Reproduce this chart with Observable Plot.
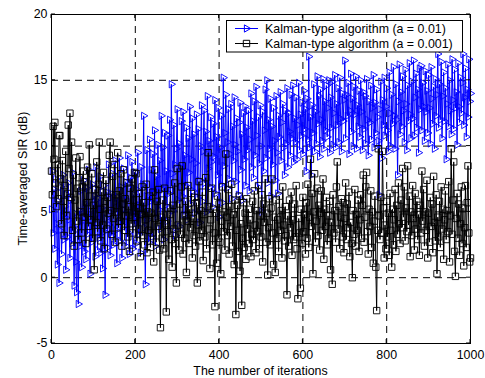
<!DOCTYPE html>
<html><head><meta charset="utf-8">
<script src="https://cdn.jsdelivr.net/npm/d3@7"></script>
<script src="https://cdn.jsdelivr.net/npm/@observablehq/plot@0.6"></script>
<style>body{margin:0;background:#fff} svg{display:block}</style>
</head><body><div id="chart"></div>
<script>
const iterations = d3.range(0, 1001, 2);
const sirA01 = [
  5.2, 8.1, 3.4, 6.7, 2.2, 7.5, 4.1, 1.0, 5.8, -0.4,
  3.6, 6.9, 1.8, 4.7, 7.8, 2.9, 5.4, 0.6, 6.3, 3.1,
  7.2, 4.4, 1.5, 5.9, 2.6, 8.0, 3.8, -0.6, 4.9, 1.2,
  -1.1, 3.7, -2.0, 5.1, 2.4, 6.6, 0.8, 4.3, 7.4, 2.0,
  5.6, 1.4, 6.8, 3.3, 8.2, 4.6, 0.3, 5.0, 2.7, 7.1,
  3.9, 6.2, 1.6, 8.4, 4.8, 2.1, 6.0, 3.0, 7.7, 1.9,
  5.3, 0.7, 7.0, 3.5, -1.3, 4.5, 6.5, 2.3, 8.6, 4.0,
  1.7, 6.4, 3.2, 7.9, 2.5, 5.7, 8.9, 3.6, 1.1, 6.1,
  4.2, 9.1, 2.8, 6.9, 1.5, 5.2, 8.3, 3.9, 7.3, 2.4,
  5.9, 9.3, 3.4, 1.8, 7.6, 4.7, 8.8, 2.2, 6.3, 4.1,
  8.0, 2.6, 6.7, 9.5, 3.3, 5.5, 1.9, 8.4, 4.9, 7.1,
  12.3, 3.8, -0.5, 6.2, 9.7, 4.4, 2.7, 10.5, 5.8, 8.2,
  3.1, 9.4, 6.5, 11.2, 2.4, 7.7, 4.6, 10.1, 5.2, 8.9,
  3.7, 12.3, 6.8, 9.9, 2.9, 11.0, 5.5, 8.1, 4.3, 10.8,
  6.4, 12.0, 3.6, 14.7, 7.9, 5.1, 11.6, 8.6, 3.2, 9.8,
  12.8, 5.9, 10.2, 3.9, 8.4, 11.9, 6.2, 12.6, 4.8, 9.3,
  7.0, 11.4, 4.4, 10.6, 8.0, 13.0, 5.6, 9.0, 12.1, 6.6,
  10.9, 4.9, 8.7, 12.4, 6.1, 11.3, 7.4, 4.2, 10.0, 13.1,
  5.8, 9.6, 12.7, 7.2, 11.1, 5.0, 13.8, 8.3, 10.4, 6.9,
  12.2, 8.8, 5.4, 11.7, 9.2, 13.5, 6.4, 10.7, 7.8, 12.9,
  4.6, 9.9, 7.1, 12.3, 5.7, 15.2, 8.5, 11.0, 13.9, 6.8,
  10.3, 12.8, 7.5, 9.4, 13.2, 6.0, 11.5, 8.9, 13.7, 10.1,
  7.3, 12.1, 9.6, 6.3, 11.8, 13.3, 8.2, 10.9, 5.9, 12.5,
  9.0, 13.0, 7.0, 11.4, 9.7, 12.7, 6.6, 10.5, 14.0, 8.4,
  11.9, 7.6, 13.4, 9.3, 14.5, 10.8, 6.9, 12.2, 8.7, 13.1,
  10.0, 5.0, 12.6, 8.1, 11.2, 14.3, 9.1, 15.0, 7.2, 12.0,
  9.8, 13.6, 6.2, 11.5, 8.6, 12.9, 10.4, 7.4, 13.8, 9.5,
  6.4, 12.3, 10.7, 14.1, 8.9, 11.8, 13.2, 9.9, 7.8, 12.7,
  10.2, 14.4, 8.4, 12.5, 11.1, 9.3, 13.9, 10.6, 14.6, 8.8,
  12.1, 10.3, 13.7, 9.0, 11.6, 14.8, 9.7, 12.4, 10.8, 13.3,
  9.4, 14.2, 11.3, 12.8, 8.1, 13.6, 10.5, 16.8, 9.9, 12.2,
  7.8, 13.1, 11.0, 14.7, 9.6, 12.6, 10.2, 15.3, 11.7, 13.8,
  9.2, 14.3, 12.0, 10.4, 15.1, 9.8, 13.4, 11.2, 14.6, 10.7,
  12.9, 15.0, 9.5, 13.7, 11.4, 14.9, 10.1, 12.5, 15.4, 9.9,
  13.2, 11.6, 14.4, 10.3, 15.2, 12.1, 9.6, 14.0, 11.9, 13.5,
  16.5, 10.6, 13.9, 12.3, 14.8, 9.4, 12.7, 15.5, 11.1, 13.6,
  10.0, 14.5, 12.4, 15.3, 9.8, 13.1, 11.5, 14.2, 10.7, 15.0,
  12.6, 9.7, 14.1, 11.3, 13.8, 10.2, 15.1, 12.0, 9.3, 13.4,
  11.8, 14.6, 10.5, 12.9, 15.4, 9.9, 13.3, 11.0, 14.3, 12.2,
  10.4, 6.3, 12.8, 14.9, 9.1, 13.5, 11.6, 15.2, 10.8, 13.0,
  14.4, 11.2, 9.6, 15.6, 12.5, 10.0, 13.9, 11.7, 16.0, 12.3,
  9.8, 14.7, 12.0, 7.8, 13.4, 16.2, 10.9, 14.1, 11.5, 15.3,
  12.7, 10.3, 15.8, 13.2, 9.7, 14.6, 11.9, 16.3, 12.4, 10.6,
  14.9, 12.1, 16.5, 10.8, 13.7, 15.5, 11.4, 14.3, 9.5, 15.9,
  12.8, 16.1, 11.2, 14.8, 13.0, 10.4, 15.7, 12.6, 14.2, 11.0,
  15.4, 12.9, 10.2, 16.0, 13.6, 11.7, 14.5, 9.8, 15.1, 12.3,
  13.9, 17.0, 11.4, 14.7, 12.0, 16.4, 10.6, 13.8, 15.6, 11.9,
  14.4, 9.0, 13.2, 16.2, 11.5, 15.0, 12.7, 10.9, 16.6, 13.5,
  11.3, 15.8, 12.9, 14.1, 10.1, 16.3, 13.0, 11.8, 15.2, 12.5,
  14.8, 17.0, 11.6, 13.7, 15.9, 10.7, 14.3, 12.2, 16.6, 13.4,
  14.0
];
const sirA001 = [
  8.1, 6.3, 11.5, 9.0, 11.8, 7.2, 5.4, 8.6, 6.0, 10.8,
  10.8, 7.5, 4.1, 8.9, 5.8, 3.2, 7.0, 9.6, 4.7, 6.4,
  11.6, 8.3, 12.5, 6.1, 10.3, 3.6, 7.8, 2.4, 5.9, 9.1,
  4.3, 6.8, 2.9, 7.6, 9.2, 5.0, 3.4, 6.9, 8.1, 4.6,
  7.3, 2.6, 5.7, 8.4, 3.9, 10.1, 6.2, 4.4, 7.9, 3.0,
  5.5, 0.6, 6.7, 4.2, 8.8, 3.5, 7.1, 10.3, 5.2, 2.8,
  6.5, 4.0, 8.0, 2.2, 5.8, 7.4, 3.7, 6.1, 4.9, 9.3,
  10.3, 5.1, 3.3, 7.7, 4.5, 8.6, 2.7, 6.3, 5.0, 9.5,
  3.8, 6.6, 4.3, 7.9, 2.4, 5.6, 8.2, 3.6, 6.0, 4.7,
  7.2, 3.1, 5.4, 2.0, 6.8, 4.1, 7.5, 3.4, 5.9, 8.0,
  4.6, 7.9, 2.8, 5.3, 3.7, 6.4, 1.6, 4.8, 6.9, 3.2,
  5.7, 2.5, 4.4, 7.1, 1.9, 5.0, 3.6, 6.2, 2.3, 4.9,
  3.4, 6.5, 1.2, 8.2, 4.5, 2.7, 5.8, 3.9, 6.7, 2.1,
  -3.8, 4.6, 3.0, 5.9, 2.2, 6.8, 4.1, -2.6, 3.5, 5.3,
  1.4, 4.8, 6.6, 2.9, 0.8, 5.5, 3.7, 7.2, 2.6, -0.4,
  8.3, 4.0, 2.1, 5.6, 3.3, 6.9, 8.5, 1.8, 4.7, 3.0,
  5.8, 0.4, 4.3, 7.0, 2.6, 5.2, 3.8, 6.4, 1.5, 4.5,
  3.2, 6.1, 2.4, 5.7, -0.4, 4.0, 7.3, 2.8, 5.1, 3.6,
  6.5, 1.3, 4.8, 3.1, 7.6, 2.2, 5.4, 9.5, 3.7, 0.7,
  4.4, 6.8, 2.5, 5.2, 3.4, -2.2, 4.9, 1.1, 6.2, 3.0,
  5.6, 2.7, 0.3, 4.3, 6.9, 3.5, 5.0, 2.1, 9.4, 4.6,
  3.2, 6.7, 1.8, 5.4, 3.9, 7.1, 2.4, 4.8, 1.0, 5.9,
  -2.8, 3.6, 5.5, 2.0, 6.2, 0.5, 4.1, -2.1, 3.0, 5.7,
  2.3, 4.9, 1.4, 6.0, 3.7, 5.2, 2.6, 4.4, 1.6, 3.3,
  5.8, 2.9, 6.6, 4.0, 1.9, 5.1, 3.5, 7.0, 2.2, 4.7,
  3.1, 6.3, 1.2, 5.6, 4.2, 7.5, 2.7, 4.9, 0.2, 3.8,
  6.0, 2.5, 5.3, 7.5, 3.4, 1.0, 4.6, 0.4, 5.9, 3.0,
  4.4, 2.0, 6.2, 3.6, 5.1, 1.5, 6.9, 4.0, 2.8, 5.4,
  3.2, -1.3, 4.7, 2.4, 5.9, 3.8, 6.5, 1.7, 4.4, 2.9,
  5.6, 3.1, 7.0, 2.2, -1.6, 4.5, 3.4, -0.8, 5.2, 2.6,
  6.1, 3.5, 4.8, 1.8, 5.7, 3.0, 7.1, 2.3, 4.6, 9.0,
  3.9, 6.4, 0.3, 5.0, 7.9, 2.7, 4.3, 6.8, 3.2, 5.5,
  2.1, 4.9, 6.6, 3.6, 7.5, 1.4, 5.2, 3.9, 6.1, 2.5,
  4.7, 3.0, 5.8, 0.6, 4.2, -0.5, 6.3, 3.4, 5.1, 2.7,
  6.9, 8.8, 3.7, 5.4, 2.2, 4.6, 6.0, 3.1, 5.7, 1.9,
  4.5, 7.2, 2.9, 5.6, 3.8, 6.5, 1.6, 4.2, 2.6, 0.0,
  5.1, 3.3, 6.7, 2.4, 4.8, 3.6, 5.9, 2.0, 4.4, 6.3,
  3.0, 5.5, 7.8, 2.7, 4.6, 6.9, 8.0, 3.5, 1.8, 5.2,
  3.9, 6.6, 2.3, 5.0, 1.1, 4.3, 6.2, 0.8, -2.5, 3.6,
  9.8, 4.7, 2.9, 6.1, 3.4, 9.6, 5.3, 1.5, 4.0, 2.2,
  5.8, 3.1, 4.9, 1.7, 6.4, 3.6, 0.8, 5.2, 2.5, 4.4,
  6.7, 2.0, 5.5, 3.3, 7.2, 4.1, 2.6, 5.9, 3.8, 8.3,
  4.6, 6.9, 2.8, 5.3, 3.5, 8.5, 4.0, 6.2, 1.6, 5.0,
  3.2, 7.0, 4.5, 2.1, 6.4, 3.7, 5.8, 2.9, 4.8, 1.7,
  5.5, 3.4, 8.1, 4.3, 6.7, 2.4, 5.0, 3.6, 7.4, 1.5,
  4.9, 2.7, 6.1, 3.9, 5.6, 1.9, 7.7, 4.2, 2.8, 6.3,
  0.3, 4.6, 3.1, 5.8, 2.3, 6.9, 3.7, 5.2, 1.4, 4.4,
  6.6, 2.9, 5.1, 3.5, 7.3, 1.2, 4.7, 9.8, 3.3, 5.9,
  8.8, 2.0, 0.1, 4.5, 6.4, 3.0, 5.6, 1.7, 4.1, 6.9,
  2.6, 5.3, 0.9, 3.8, 7.0, 2.3, 5.7, 8.5, 3.4, 1.2,
  1.5
];
const xTicks = [0, 200, 400, 600, 800, 1000];
const yTicks = [-5, 0, 5, 10, 15, 20];
const seriesNames = ["Kalman-type algorithm (a = 0.01)", "Kalman-type algorithm (a = 0.001)"];
const xLabel = "The number of iterations";
const yLabel = "Time-averaged SIR (dB)";

const blueData = iterations.map((x, i) => ({x, y: sirA01[i]}));
const blackData = iterations.map((x, i) => ({x, y: sirA001[i]}));
const FONT = "'Liberation Sans', Arial, sans-serif";

const plot = Plot.plot({
  width: 485, height: 378,
  marginLeft: 51, marginRight: 15, marginTop: 14, marginBottom: 35,
  style: {fontFamily: FONT, fontSize: "12.4px", background: "#fff", color: "#000", overflow: "visible"},
  x: {domain: [0, 1000]},
  y: {domain: [-5, 20]},
  marks: [
    Plot.ruleX(xTicks.slice(1, -1), {stroke: "#000", strokeDasharray: "7,5", strokeWidth: 1}),
    Plot.ruleY(yTicks.slice(1, -1), {stroke: "#000", strokeDasharray: "7,5", strokeWidth: 1}),
    Plot.line(blueData, {x: "x", y: "y", stroke: "#0000ff", strokeWidth: 1}),
    Plot.dot(blueData, {x: "x", y: "y", symbol: "triangle", rotate: 90, r: 2.7, stroke: "#0000ff", fill: "none", strokeWidth: 0.9}),
    Plot.line(blackData, {x: "x", y: "y", stroke: "#000", strokeWidth: 1}),
    Plot.dot(blackData, {x: "x", y: "y", symbol: "square", r: 3.6, stroke: "#000", fill: "none", strokeWidth: 0.9}),
    Plot.frame({stroke: "#000", strokeWidth: 1}),
    Plot.axisX({ticks: xTicks, tickSize: 0, tickPadding: 7, label: null, tickFormat: d => String(d)}),
    Plot.axisY({ticks: yTicks, tickSize: 0, tickPadding: 4, label: null, tickFormat: d => String(d)})
  ]
});
document.getElementById("chart").appendChild(plot);

const svg = d3.select(plot);
const sx = plot.scale("x"), sy = plot.scale("y");
const x0 = sx.apply(0), x1 = sx.apply(1000), y0 = sy.apply(-5), y1 = sy.apply(20);
const tg = svg.append("g").attr("stroke", "#000").attr("stroke-width", 1);
xTicks.forEach(t => {
  const px = sx.apply(t);
  tg.append("line").attr("x1", px).attr("x2", px).attr("y1", y0).attr("y2", y0 - 4);
  tg.append("line").attr("x1", px).attr("x2", px).attr("y1", y1).attr("y2", y1 + 4);
});
yTicks.forEach(t => {
  const py = sy.apply(t);
  tg.append("line").attr("x1", x0).attr("x2", x0 + 4).attr("y1", py).attr("y2", py);
  tg.append("line").attr("x1", x1).attr("x2", x1 - 4).attr("y1", py).attr("y2", py);
});

// axis titles
svg.append("text").attr("x", (x0 + x1) / 2).attr("y", 375).attr("text-anchor", "middle")
  .attr("font-family", FONT).attr("font-size", "12.4px").attr("fill", "#000").text(xLabel);
svg.append("text").attr("transform", `translate(26.5,${(y0 + y1) / 2}) rotate(-90)`).attr("text-anchor", "middle")
  .attr("font-family", FONT).attr("font-size", "12.4px").attr("fill", "#000").text(yLabel);

// legend
const lg = svg.append("g");
lg.append("rect").attr("x", 226.5).attr("y", 20.5).attr("width", 236).attr("height", 31.5)
  .attr("fill", "#fff").attr("stroke", "#000").attr("stroke-width", 1);
const rows = [
  {name: seriesNames[0], color: "#0000ff", sym: d3.symbolTriangle, size: Math.PI * 2.7 * 2.7, rot: 90, y: 28.5},
  {name: seriesNames[1], color: "#000", sym: d3.symbolSquare, size: Math.PI * 3.6 * 3.6, rot: 0, y: 43.5}
];
rows.forEach(r => {
  lg.append("line").attr("x1", 235).attr("x2", 258).attr("y1", r.y).attr("y2", r.y).attr("stroke", r.color).attr("stroke-width", 1);
  lg.append("path").attr("d", d3.symbol(r.sym, r.size)()).attr("transform", `translate(246.5,${r.y}) rotate(${r.rot})`)
    .attr("fill", "none").attr("stroke", r.color).attr("stroke-width", 1);
  lg.append("text").attr("x", 265).attr("y", r.y + 4.3).attr("text-anchor", "start").attr("font-family", FONT).attr("font-size", "12.4px")
    .attr("fill", "#000").text(r.name);
});
</script>
</body></html>
